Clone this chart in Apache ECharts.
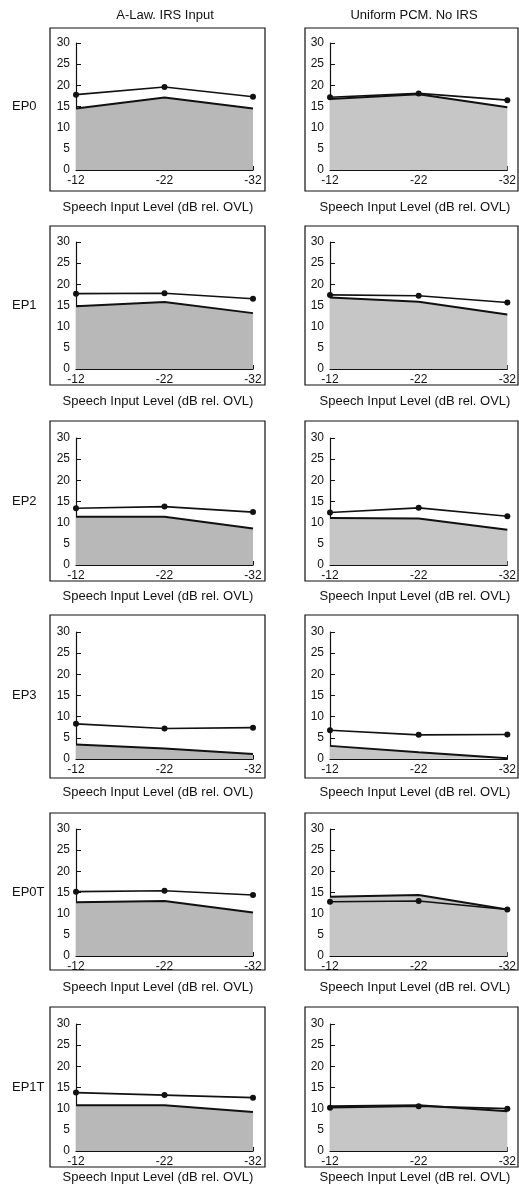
<!DOCTYPE html>
<html>
<head>
<meta charset="utf-8">
<script src="https://cdn.jsdelivr.net/npm/echarts@6/dist/echarts.min.js"></script>
<style>
  html, body { margin: 0; padding: 0; background: #fff; }
  #main { width: 519px; height: 1187px; }
</style>
</head>
<body>
<div id="main"></div>
<script>
// categories / labels
const levels = ['-12', '-22', '-32']
const rowNames = ['EP0', 'EP1', 'EP2', 'EP3', 'EP0T', 'EP1T']
const colNames = ['A-Law. IRS Input', 'Uniform PCM. No IRS']
const xTitle = 'Speech Input Level (dB rel. OVL)'
const yMin = 0
const yMax = 30
const yStep = 5

// A-Law, IRS input (one row per EP)
const alawDots = [
  [17.8, 19.6, 17.3],
  [17.8, 17.9, 16.6],
  [13.4, 13.8, 12.5],
  [8.3, 7.2, 7.4],
  [15.2, 15.4, 14.4],
  [13.8, 13.2, 12.6]
]
const alawArea = [
  [14.5, 17.1, 14.5],
  [14.8, 15.8, 13.2],
  [11.4, 11.4, 8.6],
  [3.4, 2.5, 1.2],
  [12.7, 13.0, 10.3],
  [10.8, 10.8, 9.2]
]
// Uniform PCM, no IRS
const pcmDots = [
  [17.2, 18.1, 16.5],
  [17.5, 17.3, 15.7],
  [12.4, 13.5, 11.5],
  [6.8, 5.7, 5.8],
  [12.8, 13.0, 11.0],
  [10.2, 10.6, 10.0]
]
const pcmArea = [
  [16.8, 17.9, 14.8],
  [16.9, 15.9, 12.9],
  [11.1, 11.0, 8.3],
  [3.1, 1.6, 0.2],
  [14.0, 14.4, 11.0],
  [10.6, 10.8, 9.4]
]

// layout (pixels)
const gridTops = [43, 242, 438, 632, 829, 1024]
const gridH = 127
const boxTops = [28, 226, 421, 615, 813, 1007]
const boxBottoms = [191, 385, 581, 778, 970, 1167]
const xTitleY = [207, 401, 596, 792, 987, 1177]
const colLeft = [76, 330]
const colRight = [266, 11]
const boxX = [50, 305]
const boxW = [215, 213]
const titleX = [165, 414]
const xTitleX = [158, 415]

var font = '"Liberation Sans", Arial, sans-serif'
var chart = echarts.init(document.getElementById('main'))

var grids = [], xAxes = [], yAxes = [], series = [], graphics = []

colNames.forEach(function (name, c) {
  graphics.push({
    type: 'text', x: titleX[c], y: 15,
    style: { text: name, font: '13px ' + font, fill: '#111', textAlign: 'center', textVerticalAlign: 'middle' }
  })
})

rowNames.forEach(function (ep, r) {
  let top = gridTops[r]
  graphics.push({
    type: 'text', x: 12, y: top + gridH / 2,
    style: { text: ep, font: '13px ' + font, fill: '#111', textAlign: 'left', textVerticalAlign: 'middle' }
  })
  for (let c = 0; c < 2; c++) {
    let idx = grids.length
    // frame round each panel
    graphics.push({
      type: 'rect', shape: { x: boxX[c], y: boxTops[r], width: boxW[c], height: boxBottoms[r] - boxTops[r] },
      style: { fill: 'none', stroke: '#111', lineWidth: 1.2 }, z: 10
    })
    graphics.push({
      type: 'text', x: xTitleX[c], y: xTitleY[r],
      style: { text: xTitle, font: '13px ' + font, fill: '#111', textAlign: 'center', textVerticalAlign: 'middle' }
    })
    grids.push({ left: colLeft[c], right: colRight[c], top: top, height: gridH })
    xAxes.push({
      type: 'category', gridIndex: idx, data: levels, boundaryGap: false,
      axisLine: { lineStyle: { color: '#111', width: 1.2 } },
      axisTick: { inside: true, length: 4, lineStyle: { color: '#111' } },
      axisLabel: { color: '#111', fontSize: 12, fontFamily: font, margin: 5 },
      splitLine: { show: false }
    })
    yAxes.push({
      type: 'value', gridIndex: idx, min: yMin, max: yMax, interval: yStep,
      axisLine: { show: true, lineStyle: { color: '#111', width: 1.2 } },
      axisTick: { show: true, inside: true, length: 5, lineStyle: { color: '#111' } },
      axisLabel: { color: '#111', fontSize: 12, fontFamily: font, margin: 6 },
      splitLine: { show: false }
    })
    let area = c == 0 ? alawArea[r] : pcmArea[r]
    let dots = c == 0 ? alawDots[r] : pcmDots[r]
    series.push({
      type: 'line', xAxisIndex: idx, yAxisIndex: idx, data: area,
      showSymbol: false, silent: true,
      lineStyle: { color: '#111', width: 2 },
      areaStyle: { color: c == 0 ? '#b8b8b8' : '#c6c6c6', opacity: 1 }
    })
    series.push({
      type: 'line', xAxisIndex: idx, yAxisIndex: idx, data: dots,
      symbol: 'circle', symbolSize: 6, silent: true,
      lineStyle: { color: '#111', width: 1.6 },
      itemStyle: { color: '#111' }
    })
  }
})

chart.setOption({
  animation: false,
  backgroundColor: '#fff',
  grid: grids,
  xAxis: xAxes,
  yAxis: yAxes,
  series: series,
  graphic: graphics
})
</script>
</body>
</html>
